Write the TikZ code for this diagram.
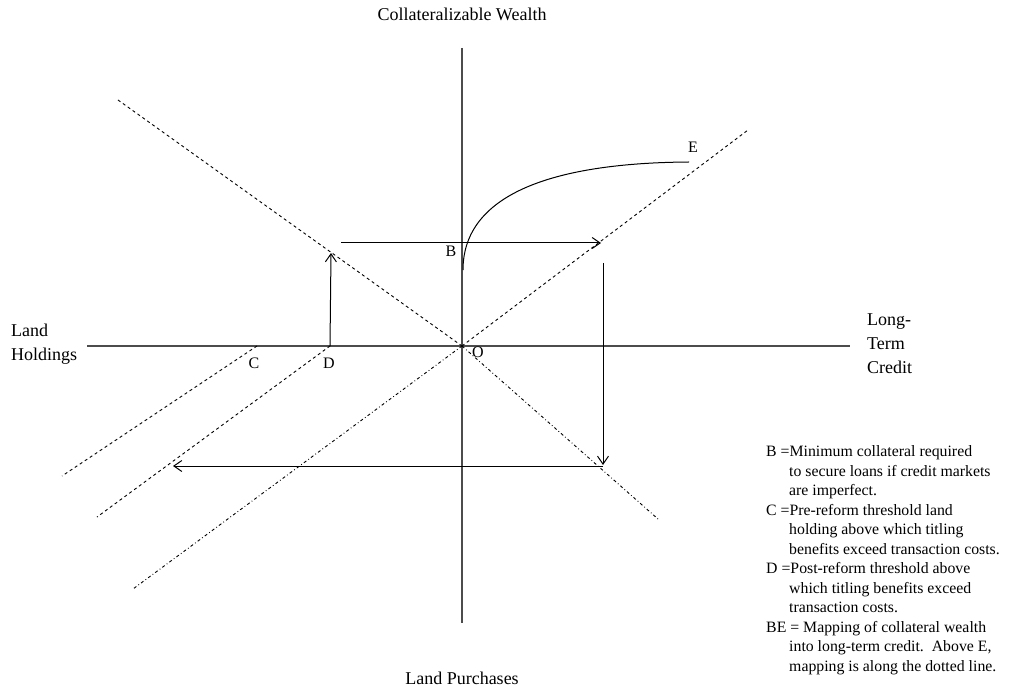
\documentclass[tikz,border=0pt]{standalone}
\usepackage{fontspec}
\setmainfont{Liberation Serif}
\usetikzlibrary{arrows.meta}
\begin{document}
\begin{tikzpicture}[x=1pt,y=-1pt,
  axisline/.style={line width=1.1pt,draw=black!70},
  dashline/.style={line width=0.9pt,dash pattern=on 3pt off 3pt},
  dashdotline/.style={line width=0.9pt,dash pattern=on 3pt off 2.5pt on 0.8pt off 2.5pt},
  maparrow/.style={line width=1pt,-{Straight Barb[length=8pt,width=11pt]}},
  ttl/.style={inner sep=0pt,anchor=base,font=\fontsize{18}{21}\selectfont},
  ttll/.style={inner sep=0pt,anchor=base west,font=\fontsize{18}{21}\selectfont},
  lbl/.style={inner sep=0pt,anchor=base,font=\fontsize{16}{19}\selectfont},
  legend/.style={inner sep=0pt,anchor=base west,font=\fontsize{15.8}{19}\selectfont}]
\useasboundingbox (0,0) rectangle (1011,692);
% key points
\coordinate (O) at (462,346);
\coordinate (top) at (462,48);
\coordinate (bot) at (462,623);
\coordinate (left) at (87,346);
\coordinate (right) at (850,346);
\coordinate (NW) at (118,100);
\coordinate (SE) at (658,519);
\coordinate (NE) at (748,130);
\coordinate (SW) at (133,589);
\coordinate (Cp) at (257,346);
\coordinate (Cend) at (62,476);
\coordinate (Dp) at (330,346);
\coordinate (Dend) at (97,517);
\coordinate (Dtop) at (331,253);
\coordinate (h1s) at (341,243);
\coordinate (h1e) at (601,243);
\coordinate (v1s) at (603,263);
\coordinate (v1e) at (603,465);
\coordinate (h2s) at (603,466);
\coordinate (h2e) at (173,466);
\coordinate (Bp) at (463,270);
\coordinate (Ep) at (689,162);
% axes
\draw[axisline] (top) -- (bot);
\draw[axisline] (left) -- (right);
% diagonals
\draw[dashline] (NW) -- (O);
\draw[dashdotline] (O) -- (SE);
\draw[dashline] (O) -- (NE);
\draw[dashdotline] (O) -- (SW);
\draw[dashline] (Cp) -- (Cend);
\draw[dashline] (Dp) -- (Dend);
% arrows
\draw[maparrow] (Dp) -- (Dtop);
\draw[maparrow] (h1s) -- (h1e);
\draw[maparrow] (v1s) -- (v1e);
\draw[maparrow] (h2s) -- (h2e);
% mapping curve
\draw[line width=1pt] (Bp) .. controls (463,200) and (540,163) .. (Ep);
% axis titles
\node[ttl] (tW) at (462,21) {Collateralizable Wealth};
\node[ttl] (tP) at (462,684) {Land Purchases};
\node[ttll] (tH1) at (11,336) {Land};
\node[ttll] (tH2) at (11,360) {Holdings};
\node[ttll] (tC1) at (867,325) {Long-};
\node[ttll] (tC2) at (867,349) {Term};
\node[ttll] (tC3) at (867,373) {Credit};
% point labels
\node[lbl] (lB) at (451,257) {B};
\node[lbl] (lC) at (254,368) {C};
\node[lbl] (lD) at (329,368) {D};
\node[lbl] (lO) at (478,357) {O};
\node[lbl] (lE) at (693,153) {E};
% legend
\node[legend] (g1) at (766,456) {B =Minimum collateral required};
\node[legend] (g2) at (789,476) {to secure loans if credit markets};
\node[legend] (g3) at (789,495) {are imperfect.};
\node[legend] (g4) at (766,515) {C =Pre-reform threshold land};
\node[legend] (g5) at (789,534) {holding above which titling};
\node[legend] (g6) at (789,554) {benefits exceed transaction costs.};
\node[legend] (g7) at (766,573) {D =Post-reform threshold above};
\node[legend] (g8) at (789,593) {which titling benefits exceed};
\node[legend] (g9) at (789,612) {transaction costs.};
\node[legend] (g10) at (766,632) {BE = Mapping of collateral wealth};
\node[legend] (g11) at (789,651) {into long-term credit.\ \ Above E,};
\node[legend] (g12) at (789,671) {mapping is along the dotted line.};
\end{tikzpicture}
\end{document}
